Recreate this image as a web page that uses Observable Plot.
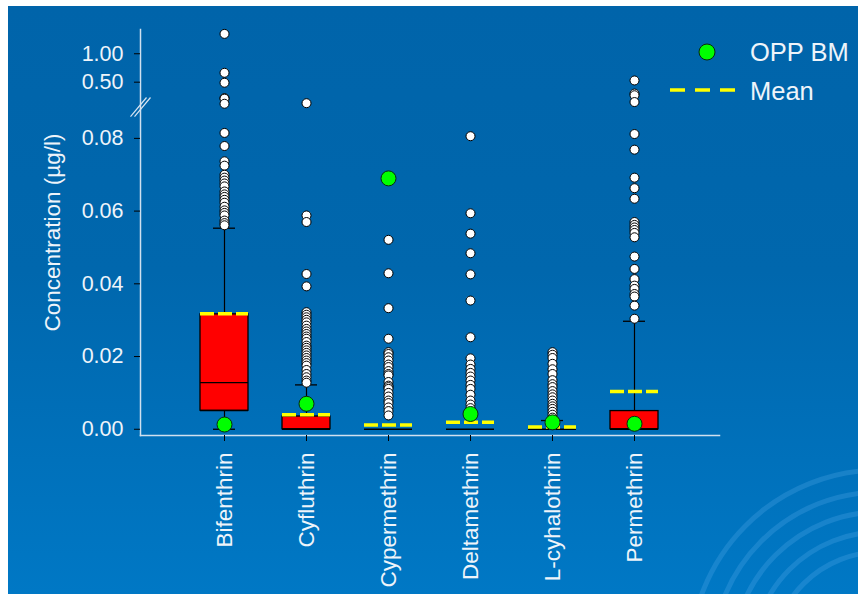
<!DOCTYPE html>
<html>
<head>
<meta charset="utf-8">
<script src="https://cdn.jsdelivr.net/npm/d3@7"></script>
<script src="https://cdn.jsdelivr.net/npm/@observablehq/plot@0.6"></script>
<style>
  html, body { margin: 0; padding: 0; background: #ffffff; }
  #panel {
    position: absolute; left: 8px; top: 6px; width: 850px; height: 588px; overflow: hidden;
    background: linear-gradient(to bottom, #0064aa 0%, #0067ad 45%, #0078c5 100%);
    font-family: Arial, "Liberation Sans", sans-serif;
  }
  #panel svg { position: absolute; left: 0; top: 0; }
</style>
</head>
<body>
<div id="panel"></div>
<script>
// Pyrethroid concentrations (µg/l): box summaries, means, OPP benchmarks and outliers
const categories = ["Bifenthrin", "Cyfluthrin", "Cypermethrin", "Deltamethrin", "L-cyhalothrin", "Permethrin"];

const q1 = [0.0051, 0, 0, 0, 0, 0];
const medians = [0.0128, 0, 0, 0, 0, 0];
const q3 = [0.0316, 0.0035, 0, 0, 0, 0.0050];
const whiskerLow = [0, 0, 0, 0, 0, 0];
const whiskerHigh = [0.0553, 0.0122, 0, 0, 0.0024, 0.0297];
const means = [0.0318, 0.0040, 0.0012, 0.0019, 0.0006, 0.0104];
const oppBM = [0.0013, 0.0070, 0.0690, 0.0042, 0.0019, 0.0015];

const bifenthrinOutliers = [1.35, 0.665, 0.49, 0.22, 0.21, 0.12, 0.0815, 0.0779, 0.0737, 0.0725, 0.0700,
  0.0692, 0.0684, 0.0676, 0.0668, 0.0654, 0.0646, 0.0639, 0.0631, 0.0623, 0.0612, 0.0602, 0.0595,
  0.0588, 0.0574, 0.0567, 0.0561];
const cyfluthrinOutliers = [0.13, 0.0588, 0.0570, 0.0427, 0.0393, 0.0322, 0.0315, 0.0308, 0.0301, 0.0294,
  0.0285, 0.0276, 0.0269, 0.0262, 0.0255, 0.0249, 0.0240, 0.0230, 0.0224, 0.0217, 0.0210, 0.0203,
  0.0196, 0.0189, 0.0182, 0.0175, 0.0163, 0.0152, 0.0143, 0.0134, 0.0128];
const cypermethrinOutliers = [0.0521, 0.0429, 0.0333, 0.0249, 0.0212, 0.0207, 0.0198, 0.0189, 0.0178,
  0.0171, 0.0160, 0.0152, 0.0148, 0.0130, 0.0120, 0.0116, 0.0111, 0.0100, 0.0090, 0.0079, 0.0072,
  0.0060, 0.0050, 0.0038];
const deltamethrinOutliers = [0.0806, 0.0594, 0.0538, 0.0484, 0.0426, 0.0354, 0.0253, 0.0195, 0.0178,
  0.0166, 0.0155, 0.0145, 0.0134, 0.0122, 0.0111, 0.0095, 0.0079, 0.0068, 0.0058];
const lcyhalothrinOutliers = [0.0212, 0.0205, 0.0196, 0.0180, 0.0165, 0.0152, 0.0135, 0.0124, 0.0116,
  0.0105, 0.0096, 0.0088, 0.0079, 0.0070, 0.0063, 0.0056, 0.0048, 0.0040, 0.0032];
const permethrinOutliers = [0.53, 0.30, 0.27, 0.15, 0.0812, 0.0769, 0.0692, 0.0663, 0.0634, 0.0570,
  0.0562, 0.0555, 0.0548, 0.0540, 0.0528, 0.0475, 0.0441, 0.0413, 0.0395, 0.0386, 0.0372, 0.0365,
  0.0340, 0.0304];

const yTicks = [0, 0.02, 0.04, 0.06, 0.08, 0.5, 1.0];
// broken y axis: a compressed gap between the low range and the high range
const yBreaks = [-0.0018, 0.088, 0.1, 1.42];
const yBreakMark = 0.094;

const outlierSets = [bifenthrinOutliers, cyfluthrinOutliers, cypermethrinOutliers,
  deltamethrinOutliers, lcyhalothrinOutliers, permethrinOutliers];

const rows = categories.map((name, i) => ({
  name, q1: q1[i], median: medians[i], q3: q3[i], lo: whiskerLow[i], hi: whiskerHigh[i],
  mean: means[i], opp: oppBM[i]
}));
const points = categories.flatMap((name, i) => outlierSets[i].map(v => ({name, v})));

const textColor = "#eef4fa";
const fontFamily = 'Arial, "Liberation Sans", sans-serif';

// double-slash symbol marking the axis break
const breakSymbol = {
  draw(ctx, size) {
    const r = Math.sqrt(size / Math.PI);
    for (const o of [-2, 2]) {
      ctx.moveTo(-r + o, r * 1.2);
      ctx.lineTo(r + o, -r * 1.2);
    }
  }
};

const panel = document.getElementById("panel");

// decorative rings in the lower-right corner of the backdrop
const deco = d3.create("svg").attr("width", 850).attr("height", 588);
for (const r of [108, 128, 148, 168, 190]) {
  deco.append("circle").attr("cx", 872).attr("cy", 654).attr("r", r)
    .attr("fill", "none").attr("stroke", "rgba(110,185,245,0.22)").attr("stroke-width", 5);
}
panel.appendChild(deco.node());

const chart = Plot.plot({
  width: 850,
  height: 588,
  marginTop: 23,
  marginBottom: 159,
  marginLeft: 132,
  marginRight: 139,
  style: {background: "transparent", fontFamily, overflow: "visible"},
  x: {type: "band", domain: categories, paddingInner: 0.41, paddingOuter: 0.7, align: 0.5, axis: null},
  y: {type: "linear", domain: yBreaks, range: [429.3, 102.8, 98.4, 23.4], axis: null},
  marks: [
    Plot.frame({anchor: "left", stroke: "#d0e0ef", strokeWidth: 1.5}),
    Plot.frame({anchor: "bottom", stroke: "#d0e0ef", strokeWidth: 1.5}),
    Plot.axisY({
      ticks: yTicks, tickFormat: d3.format(".2f"), tickSize: 6, tickPadding: 11,
      stroke: "#000", fill: textColor, fontSize: 21.5, label: null
    }),
    Plot.axisY({
      ticks: [], tickSize: 0, fill: textColor, fontSize: 22.5,
      label: "Concentration (µg/l)", labelAnchor: "center", labelOffset: 96, labelArrow: false
    }),
    Plot.axisX({
      tickRotate: -90, tickSize: 6, tickPadding: 11, stroke: "#000", fill: textColor,
      fontSize: 22.5, label: null
    }),
    Plot.dot([yBreakMark], {y: d => d, frameAnchor: "left", symbol: breakSymbol, r: 8,
      fill: "none", stroke: "#d6e4f2", strokeWidth: 1.2}),
    // whiskers and caps
    Plot.ruleX(rows.filter(d => d.hi > d.q3), {x: "name", y1: "q3", y2: "hi", stroke: "#000", strokeWidth: 1.2}),
    Plot.ruleX(rows.filter(d => d.lo < d.q1), {x: "name", y1: "lo", y2: "q1", stroke: "#000", strokeWidth: 1.2}),
    Plot.tickY(rows.filter(d => d.hi > d.q3), {x: "name", y: "hi", insetLeft: 13, insetRight: 13, stroke: "#000", strokeWidth: 1.3}),
    Plot.tickY(rows.filter(d => d.lo < d.q1), {x: "name", y: "lo", insetLeft: 13, insetRight: 13, stroke: "#000", strokeWidth: 1.3}),
    // boxes
    Plot.barY(rows.filter(d => d.q3 > d.q1), {x: "name", y1: "q1", y2: "q3", fill: "#ff0000", stroke: "#000", strokeWidth: 1.3}),
    Plot.tickY(rows, {x: "name", y: "q1", stroke: "#000", strokeWidth: 1.3}),
    Plot.tickY(rows.filter(d => d.median > d.q1), {x: "name", y: "median", stroke: "#000", strokeWidth: 1.3}),
    // outliers
    Plot.dot(points, {x: "name", y: "v", r: 4.5, fill: "#ffffff", stroke: "#000", strokeWidth: 1}),
    // means
    Plot.tickY(rows, {x: "name", y: "mean", stroke: "#ffff00", strokeWidth: 3.5, strokeDasharray: "14 4"}),
    // OPP benchmarks
    Plot.dot(rows, {x: "name", y: "opp", r: 7.5, fill: "#00ff00", stroke: "#0b2a0b", strokeWidth: 1})
  ]
});
panel.appendChild(chart);

// legend
const legend = d3.create("svg").attr("width", 850).attr("height", 588)
  .style("font-family", fontFamily).style("pointer-events", "none");
legend.append("circle").attr("cx", 699).attr("cy", 46).attr("r", 8)
  .attr("fill", "#00ff00").attr("stroke", "#0b2a0b");
legend.append("text").attr("x", 742).attr("y", 54.5).attr("font-size", 25.5)
  .attr("fill", textColor).text("OPP BM");
legend.append("line").attr("x1", 662).attr("x2", 727).attr("y1", 84).attr("y2", 84)
  .attr("stroke", "#ffff00").attr("stroke-width", 3.5).attr("stroke-dasharray", "15 10");
legend.append("text").attr("x", 742).attr("y", 93.5).attr("font-size", 25.5)
  .attr("fill", textColor).text("Mean");
panel.appendChild(legend.node());
</script>
</body>
</html>
